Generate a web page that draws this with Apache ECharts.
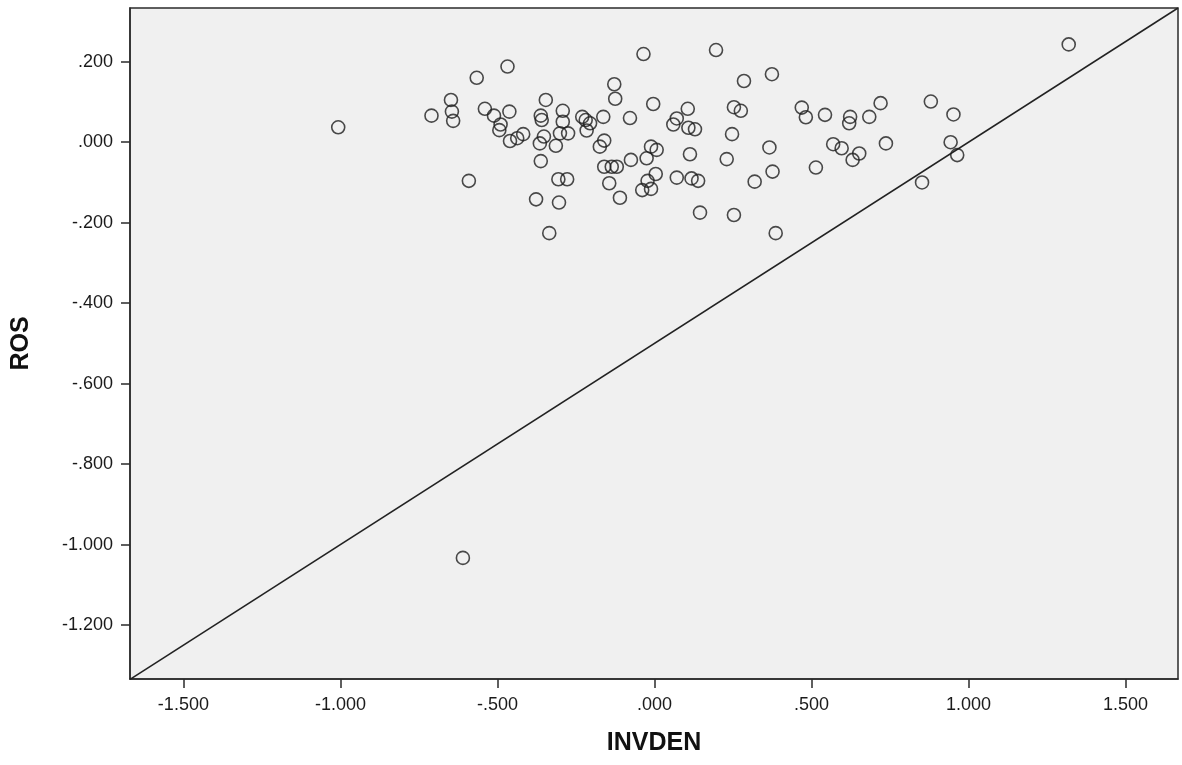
<!DOCTYPE html>
<html>
<head>
<meta charset="utf-8">
<script src="https://cdn.jsdelivr.net/npm/echarts@6/dist/echarts.min.js"></script>
<style>
html,body{margin:0;padding:0;background:#fff;}
#chart{width:1182px;height:765px;}
</style>
</head>
<body>
<div id="chart"></div>
<script>
// ---- data ----
const invden = [
 -1.007,-0.710,-0.648,-0.645,-0.641,-0.566,-0.468,-0.591,-0.540,-0.511,
 -0.462,-0.490,-0.494,-0.460,-0.437,-0.418,-0.346,-0.362,-0.359,-0.365,
 -0.352,-0.362,-0.314,-0.292,-0.292,-0.301,-0.275,-0.306,-0.278,-0.377,
 -0.304,-0.335,-0.230,-0.219,-0.205,-0.216,-0.163,-0.128,-0.125,-0.078,
 -0.160,-0.174,-0.160,-0.136,-0.120,-0.075,-0.144,-0.110,-0.035,-0.004,
 0.106,0.071,0.060,0.108,0.129,-0.011,0.007,-0.025,0.113,0.004,
 -0.022,-0.039,-0.011,0.071,0.118,0.139,0.145,0.253,0.196,0.285,
 0.374,0.253,0.275,0.247,0.230,0.366,0.319,0.376,0.386,0.469,
 0.482,0.543,0.623,0.620,0.684,0.720,0.880,0.952,0.569,0.596,
 0.652,0.631,0.737,0.514,0.943,0.964,0.852,1.319,-0.610
];
const ros = [
 0.037,0.066,0.105,0.076,0.053,0.160,0.188,-0.096,0.083,0.066,
 0.076,0.044,0.030,0.003,0.010,0.020,0.105,0.066,0.055,-0.003,
 0.014,-0.047,-0.009,0.078,0.051,0.022,0.022,-0.092,-0.092,-0.142,
 -0.150,-0.226,0.063,0.055,0.047,0.029,0.063,0.144,0.108,0.060,
 0.004,-0.011,-0.061,-0.061,-0.061,-0.044,-0.102,-0.138,0.219,0.095,
 0.083,0.059,0.044,0.036,0.032,-0.011,-0.019,-0.040,-0.030,-0.079,
 -0.096,-0.119,-0.116,-0.088,-0.090,-0.096,-0.175,-0.181,0.229,0.152,
 0.169,0.087,0.078,0.020,-0.042,-0.013,-0.098,-0.073,-0.226,0.086,
 0.062,0.068,0.063,0.047,0.063,0.097,0.101,0.069,-0.005,-0.015,
 -0.028,-0.044,-0.003,-0.063,0.000,-0.032,-0.100,0.243,-1.033
];
// reference line endpoints (drawn corner to corner of the plot)
const refLineX = [-1.670, 1.667];
const refLineY = [-1.335, 0.3335];
// axes
const xRange = [-1.670, 1.667];
const yRange = [-1.334, 0.3335];
const xTickValues = [-1.5, -1.0, -0.5, 0, 0.5, 1.0, 1.5];
const xTickLabels = ['-1.500', '-1.000', '-.500', '.000', '.500', '1.000', '1.500'];
const yTickValues = [-1.2, -1.0, -0.8, -0.6, -0.4, -0.2, 0, 0.2];
const yTickLabels = ['-1.200', '-1.000', '-.800', '-.600', '-.400', '-.200', '.000', '.200'];
const xName = 'INVDEN';
const yName = 'ROS';

function labelFor(values, labels) {
  return function (v) {
    for (let i = 0; i < values.length; i++) {
      if (Math.abs(values[i] - v) < 1e-6) return labels[i];
    }
    return '';
  };
}

const chart = echarts.init(document.getElementById('chart'), null, {renderer: 'canvas'});
const labelFont = {fontFamily: 'Liberation Sans, Arial, sans-serif', fontSize: 18, color: '#1a1a1a'};
chart.setOption({
  animation: false,
  backgroundColor: '#ffffff',
  grid: {
    left: 130, top: 8, right: 4, bottom: 86,
    outerBoundsMode: 'none', containLabel: false,
    show: true, backgroundColor: '#f0f0f0', borderColor: '#2b2b2b', borderWidth: 1.5
  },
  xAxis: {
    type: 'value', min: xRange[0], max: xRange[1],
    name: xName, nameLocation: 'middle', nameGap: 52,
    nameTextStyle: {fontFamily: 'Liberation Sans, Arial, sans-serif', fontSize: 25, fontWeight: 'bold', color: '#111'},
    splitLine: {show: false},
    axisLine: {show: true, onZero: false, lineStyle: {color: '#2b2b2b', width: 1.5}},
    axisTick: {show: true, length: 9, lineStyle: {color: '#2b2b2b', width: 1.5}, customValues: xTickValues},
    axisLabel: Object.assign({margin: 17, customValues: xTickValues, formatter: labelFor(xTickValues, xTickLabels)}, labelFont)
  },
  yAxis: {
    type: 'value', min: yRange[0], max: yRange[1],
    name: yName, nameLocation: 'middle', nameGap: 96, nameRotate: 90,
    nameTextStyle: {fontFamily: 'Liberation Sans, Arial, sans-serif', fontSize: 25, fontWeight: 'bold', color: '#111'},
    splitLine: {show: false},
    axisLine: {show: true, onZero: false, lineStyle: {color: '#2b2b2b', width: 1.5}},
    axisTick: {show: true, length: 9, lineStyle: {color: '#2b2b2b', width: 1.5}, customValues: yTickValues},
    axisLabel: Object.assign({margin: 17, customValues: yTickValues, formatter: labelFor(yTickValues, yTickLabels)}, labelFont)
  },
  series: [
    {
      type: 'line',
      data: refLineX.map((x, i) => [x, refLineY[i]]),
      symbol: 'none', silent: true,
      lineStyle: {color: '#222', width: 1.5},
      z: 2
    },
    {
      type: 'scatter',
      data: invden.map((x, i) => [x, ros[i]]),
      symbol: 'circle', symbolSize: 13,
      itemStyle: {color: 'rgba(0,0,0,0)', borderColor: '#1e1e1e', borderWidth: 1.6},
      z: 3
    }
  ]
});
</script>
</body>
</html>
